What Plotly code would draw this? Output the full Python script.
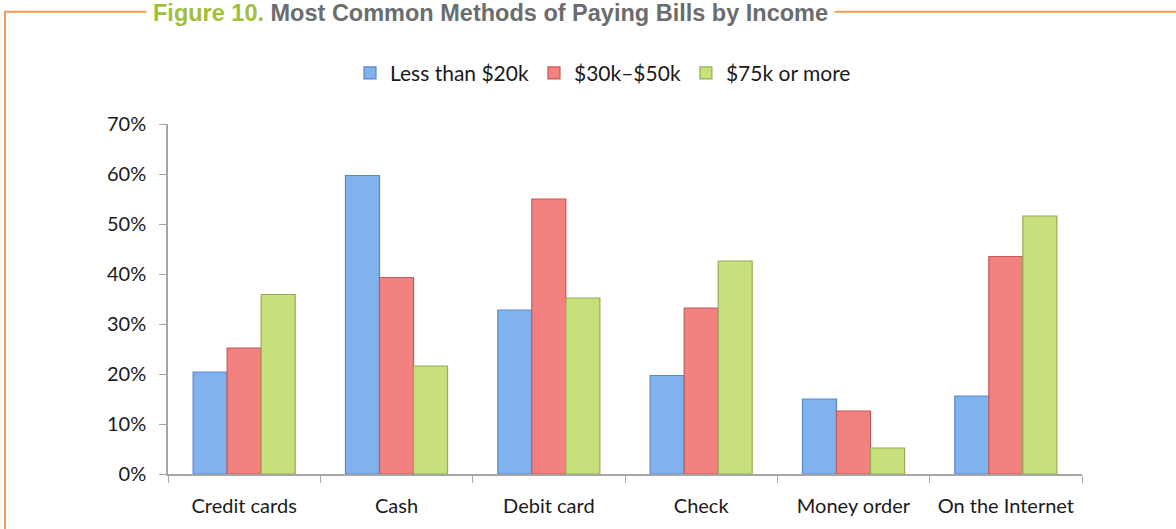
import plotly.graph_objects as go

# Data
categories = ["Credit cards", "Cash", "Debit card", "Check", "Money order", "On the Internet"]
series_names = ["Less than $20k", "$30k\u2013$50k", "$75k or more"]
less_than_20k = [0.204, 0.597, 0.328, 0.197, 0.150, 0.156]
from_30k_to_50k = [0.252, 0.393, 0.550, 0.332, 0.126, 0.435]
over_75k = [0.359, 0.216, 0.352, 0.426, 0.052, 0.516]
y_ticks = [0, 0.1, 0.2, 0.3, 0.4, 0.5, 0.6, 0.7]

# Page geometry (pixels)
W, H = 1176, 529
PLOT_L, PLOT_R, PLOT_T, PLOT_B = 168, 1082, 124, 476


def px_x(p):
    return (p - PLOT_L) / (PLOT_R - PLOT_L)


def px_y(p):
    return (PLOT_B - p) / (PLOT_B - PLOT_T)


fills = ["#80b3ee", "#f2817f", "#c7e07c"]
edges = ["#5a88c6", "#c25b59", "#93ad55"]
values = [less_than_20k, from_30k_to_50k, over_75k]

fig = go.Figure()
for name, vals, fc, ec in zip(series_names, values, fills, edges):
    fig.add_trace(go.Bar(
        x=categories, y=vals, name=name,
        marker=dict(color=fc, line=dict(color=ec, width=1.2)),
    ))

font_family = "Lato, 'Open Sans', sans-serif"

fig.update_layout(
    width=W, height=H,
    margin=dict(l=PLOT_L, r=W - PLOT_R, t=PLOT_T, b=H - PLOT_B, pad=0),
    paper_bgcolor="white", plot_bgcolor="white",
    barmode="group", bargap=0.33, bargroupgap=0,
    font=dict(family=font_family, size=20, color="#1a1a1a"),
    showlegend=True,
    legend=dict(
        orientation="h", x=px_x(603), xanchor="center",
        y=px_y(73), yanchor="middle",
        font=dict(size=21, color="#1a1a1a"),
        itemwidth=30, tracegroupgap=0, traceorder="normal",
    ),
    xaxis=dict(
        showline=True, linecolor="#a6a6a6", linewidth=1.5,
        ticks="outside", tickson="boundaries", ticklen=7, tickcolor="#a6a6a6",
        showgrid=False, tickfont=dict(size=20, color="#1a1a1a"),
        ticklabelstandoff=13,
    ),
    yaxis=dict(
        range=[0, 0.7], tickvals=y_ticks, tickformat=".0%",
        showline=True, linecolor="#a6a6a6", linewidth=1.5,
        ticks="outside", ticklen=7, tickcolor="#a6a6a6",
        showgrid=False, zeroline=False,
        tickfont=dict(size=20, color="#1a1a1a"),
        ticklabelstandoff=9,
    ),
    shapes=[
        # orange frame: top rule and left rule
        dict(type="line", xref="paper", yref="paper",
             x0=px_x(4), x1=px_x(W + 5), y0=px_y(11), y1=px_y(11),
             line=dict(color="#f39a54", width=2)),
        dict(type="line", xref="paper", yref="paper",
             x0=px_x(5), x1=px_x(5), y0=px_y(11), y1=px_y(H + 5),
             line=dict(color="#f39a54", width=2)),
    ],
    annotations=[
        dict(
            xref="paper", yref="paper", x=px_x(490), y=px_y(12),
            xanchor="center", yanchor="middle", showarrow=False,
            text="<b><span style='color:#a2c037'>Figure 10.</span> "
                 "<span style='color:#6b6c6e'>Most Common Methods of Paying Bills by Income</span></b>",
            font=dict(family="'Liberation Sans', Arial, sans-serif", size=23.5),
            bgcolor="white", borderpad=6,
        )
    ],
)

fig.write_html("out.html")
